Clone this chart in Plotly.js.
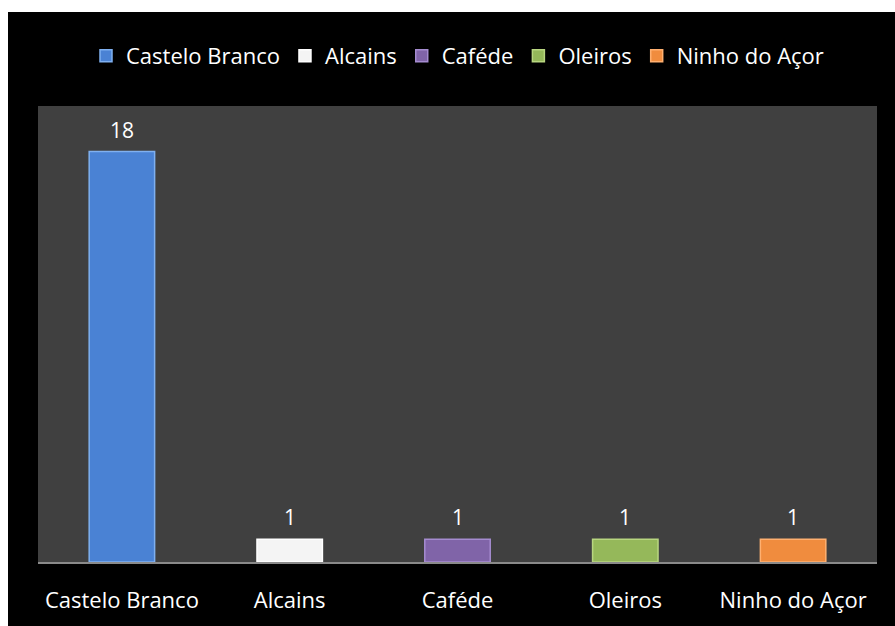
<!DOCTYPE html>
<html>
<head>
<meta charset="utf-8">
<script src="https://cdn.plot.ly/plotly-3.0.1.min.js"></script>
<style>
html,body{margin:0;padding:0;background:#ffffff;}
#chart{position:absolute;left:8px;top:12px;width:887px;height:614px;}
</style>
</head>
<body>
<div id="chart"></div>
<script>
const categories = ["Castelo Branco", "Alcains", "Caféde", "Oleiros", "Ninho do Açor"];
const values = [18, 1, 1, 1, 1];
const colors = ["#4a82d4", "#f4f4f4", "#8064a8", "#95b85a", "#f08c3e"];
const edgeColors = ["#7fb0f0", "#ffffff", "#a58cd0", "#b8d680", "#ffb070"];

const FONT = "'Open Sans', 'Noto Sans', sans-serif";

const traces = categories.map((c, i) => ({
  type: "bar",
  name: c,
  x: [c],
  y: [values[i]],
  width: 0.39,
  marker: {color: colors[i], line: {color: edgeColors[i], width: 1.5}},
  hoverinfo: "x+y"
}));

const annotations = categories.map((c, i) => ({
  x: c, y: values[i],
  xref: "x", yref: "y",
  text: String(values[i]),
  showarrow: false,
  yanchor: "bottom",
  yshift: 6,
  font: {color: "#ffffff", size: 21, family: FONT}
}));

const layout = {
  width: 887, height: 614,
  paper_bgcolor: "#000000",
  plot_bgcolor: "#404040",
  margin: {l: 30, r: 18, t: 94, b: 64},
  barmode: "overlay",
  font: {family: FONT, color: "#ffffff", size: 22},
  showlegend: true,
  annotations: annotations,
  legend: {
    orientation: "h",
    x: 0.5, xanchor: "center",
    y: 1.11, yanchor: "middle",
    font: {size: 22, color: "#ffffff", family: FONT},
    itemwidth: 30,
    tracegroupgap: 0,
    bgcolor: "rgba(0,0,0,0)"
  },
  xaxis: {
    type: "category",
    categoryorder: "array",
    categoryarray: categories,
    showline: true,
    linecolor: "#8a8a8a",
    linewidth: 2,
    ticks: "",
    ticklabelstandoff: 18,
    tickfont: {size: 22, color: "#ffffff", family: FONT},
    showgrid: false,
    zeroline: false,
    fixedrange: true
  },
  yaxis: {
    range: [0, 20],
    visible: false,
    showgrid: false,
    zeroline: false,
    fixedrange: true
  }
};

Plotly.newPlot("chart", traces, layout, {displayModeBar: false, staticPlot: true});
</script>
</body>
</html>
